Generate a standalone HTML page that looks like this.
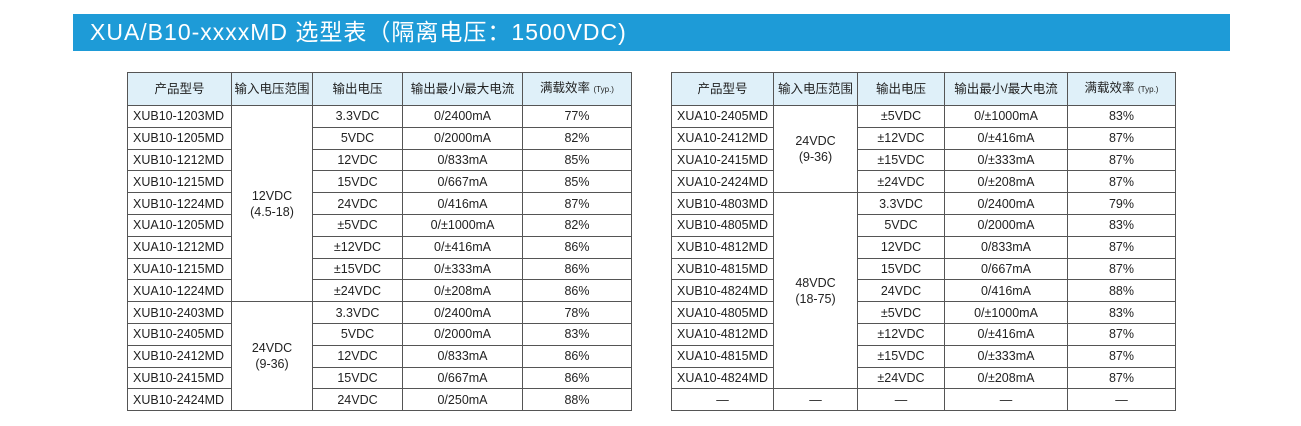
<!DOCTYPE html>
<html><head><meta charset="utf-8"><style>
body{margin:0;width:1301px;height:426px;background:#fff;position:relative;overflow:hidden;font-family:"Liberation Sans","Noto Sans CJK SC",sans-serif;color:#222}
.bar{position:absolute;left:73px;top:14px;width:1157px;height:37px;background:#1e9bd7;color:#fff;font-size:23px;letter-spacing:1px;line-height:37px;padding-left:17px;box-sizing:border-box;font-family:"Liberation Sans","Noto Sans CJK SC",sans-serif}
table{position:absolute;top:72px;border-collapse:collapse;border:1.5px solid #333;table-layout:fixed;font-size:12.5px}
td{border:1px solid #555;padding:0;text-align:center;height:20.8px;line-height:20px;white-space:nowrap;overflow:hidden}
tr.h td{background:#dff0f9;height:32px;font-size:12.5px}
td.m{text-align:left;padding-left:5px}
small{font-size:8px}
</style></head><body>
<div class="bar">XUA/B10-xxxxMD 选型表（隔离电压：1500VDC)</div>
<table style="left:127px;width:504px">
<colgroup><col style="width:104px"><col style="width:81px"><col style="width:90px"><col style="width:120px"><col style="width:109px"></colgroup>
<tr class="h"><td>产品型号</td><td>输入电压范围</td><td>输出电压</td><td>输出最小/最大电流</td><td>满载效率 <small>(Typ.)</small></td></tr>
<tr><td class="m">XUB10-1203MD</td><td rowspan="9" style="line-height:16px">12VDC<br>(4.5-18)</td><td>3.3VDC</td><td>0/2400mA</td><td>77%</td></tr>
<tr><td class="m">XUB10-1205MD</td><td>5VDC</td><td>0/2000mA</td><td>82%</td></tr>
<tr><td class="m">XUB10-1212MD</td><td>12VDC</td><td>0/833mA</td><td>85%</td></tr>
<tr><td class="m">XUB10-1215MD</td><td>15VDC</td><td>0/667mA</td><td>85%</td></tr>
<tr><td class="m">XUB10-1224MD</td><td>24VDC</td><td>0/416mA</td><td>87%</td></tr>
<tr><td class="m">XUA10-1205MD</td><td>±5VDC</td><td>0/±1000mA</td><td>82%</td></tr>
<tr><td class="m">XUA10-1212MD</td><td>±12VDC</td><td>0/±416mA</td><td>86%</td></tr>
<tr><td class="m">XUA10-1215MD</td><td>±15VDC</td><td>0/±333mA</td><td>86%</td></tr>
<tr><td class="m">XUA10-1224MD</td><td>±24VDC</td><td>0/±208mA</td><td>86%</td></tr>
<tr><td class="m">XUB10-2403MD</td><td rowspan="5" style="line-height:16px">24VDC<br>(9-36)</td><td>3.3VDC</td><td>0/2400mA</td><td>78%</td></tr>
<tr><td class="m">XUB10-2405MD</td><td>5VDC</td><td>0/2000mA</td><td>83%</td></tr>
<tr><td class="m">XUB10-2412MD</td><td>12VDC</td><td>0/833mA</td><td>86%</td></tr>
<tr><td class="m">XUB10-2415MD</td><td>15VDC</td><td>0/667mA</td><td>86%</td></tr>
<tr><td class="m">XUB10-2424MD</td><td>24VDC</td><td>0/250mA</td><td>88%</td></tr>
</table>
<table style="left:671px;width:504px">
<colgroup><col style="width:102px"><col style="width:84px"><col style="width:87px"><col style="width:123px"><col style="width:108px"></colgroup>
<tr class="h"><td>产品型号</td><td>输入电压范围</td><td>输出电压</td><td>输出最小/最大电流</td><td>满载效率 <small>(Typ.)</small></td></tr>
<tr><td class="m">XUA10-2405MD</td><td rowspan="4" style="line-height:16px">24VDC<br>(9-36)</td><td>±5VDC</td><td>0/±1000mA</td><td>83%</td></tr>
<tr><td class="m">XUA10-2412MD</td><td>±12VDC</td><td>0/±416mA</td><td>87%</td></tr>
<tr><td class="m">XUA10-2415MD</td><td>±15VDC</td><td>0/±333mA</td><td>87%</td></tr>
<tr><td class="m">XUA10-2424MD</td><td>±24VDC</td><td>0/±208mA</td><td>87%</td></tr>
<tr><td class="m">XUB10-4803MD</td><td rowspan="9" style="line-height:16px">48VDC<br>(18-75)</td><td>3.3VDC</td><td>0/2400mA</td><td>79%</td></tr>
<tr><td class="m">XUB10-4805MD</td><td>5VDC</td><td>0/2000mA</td><td>83%</td></tr>
<tr><td class="m">XUB10-4812MD</td><td>12VDC</td><td>0/833mA</td><td>87%</td></tr>
<tr><td class="m">XUB10-4815MD</td><td>15VDC</td><td>0/667mA</td><td>87%</td></tr>
<tr><td class="m">XUB10-4824MD</td><td>24VDC</td><td>0/416mA</td><td>88%</td></tr>
<tr><td class="m">XUA10-4805MD</td><td>±5VDC</td><td>0/±1000mA</td><td>83%</td></tr>
<tr><td class="m">XUA10-4812MD</td><td>±12VDC</td><td>0/±416mA</td><td>87%</td></tr>
<tr><td class="m">XUA10-4815MD</td><td>±15VDC</td><td>0/±333mA</td><td>87%</td></tr>
<tr><td class="m">XUA10-4824MD</td><td>±24VDC</td><td>0/±208mA</td><td>87%</td></tr>
<tr><td>—</td><td>—</td><td>—</td><td>—</td><td>—</td></tr>
</table>
</body></html>
